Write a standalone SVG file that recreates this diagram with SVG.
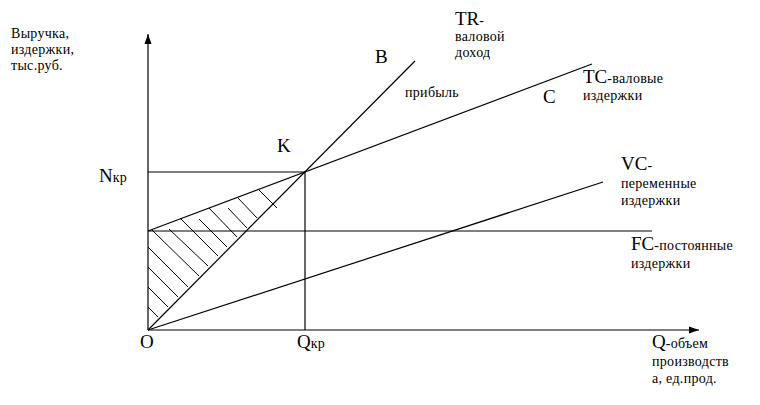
<svg xmlns="http://www.w3.org/2000/svg" width="760" height="405" viewBox="0 0 760 405">
<style>
text{font-family:"Liberation Serif","DejaVu Serif",serif;fill:#000}
.s{font-size:14px;letter-spacing:0.3px}
.b{font-size:19px}
.ln{stroke:#000;stroke-width:1.2;fill:none}
.h{stroke:#000;stroke-width:1;fill:none}
</style>
<defs>
<marker id="arr" markerWidth="10" markerHeight="8" refX="10" refY="4" orient="auto" markerUnits="userSpaceOnUse">
<path d="M0,0.5 L10,4 L0,7.5 Z" fill="#000"/>
</marker>
</defs>
<rect width="760" height="405" fill="#fff"/>
<g id="connectors">
<line class="ln" x1="148" y1="330" x2="148" y2="34" marker-end="url(#arr)"/>
<line class="ln" x1="148" y1="330" x2="699" y2="330" marker-end="url(#arr)"/>
<line class="ln" x1="148" y1="172" x2="305" y2="172"/>
<line class="ln" x1="305" y1="172" x2="305" y2="330"/>
<line class="ln" x1="148" y1="231" x2="652" y2="231"/>
<line class="ln" x1="148" y1="330" x2="415" y2="61"/>
<line class="ln" x1="148" y1="231" x2="592" y2="64"/>
<line class="ln" x1="148" y1="330" x2="603" y2="182"/>
</g>
<g id="hatch">
<line class="h" x1="148" y1="307" x2="158" y2="317"/>
<line class="h" x1="148" y1="287" x2="168" y2="307"/>
<line class="h" x1="148" y1="267" x2="178" y2="297"/>
<line class="h" x1="148" y1="247" x2="188" y2="287"/>
<line class="h" x1="152" y1="230" x2="199" y2="276"/>
<line class="h" x1="169" y1="229" x2="208" y2="266"/>
<line class="h" x1="180" y1="218" x2="218" y2="256"/>
<line class="h" x1="199" y1="219" x2="227" y2="247"/>
<line class="h" x1="209" y1="208" x2="237" y2="237"/>
<line class="h" x1="228" y1="208" x2="247" y2="228"/>
<line class="h" x1="238" y1="198" x2="257" y2="218"/>
<line class="h" x1="258" y1="189" x2="277" y2="208"/>
</g>
<g id="axis-y-label"><text class="s" x="11" y="38">Выручка,</text><text class="s" x="11" y="54">издержки,</text><text class="s" x="11" y="70">тыс.руб.</text></g>
<g id="n-kr"><text x="99" y="182"><tspan class="b">N</tspan><tspan class="s">кр</tspan></text></g>
<g id="point-k"><text class="b" x="277" y="152">K</text></g>
<g id="point-b"><text class="b" x="375" y="63">B</text></g>
<g id="profit"><text class="s" x="405" y="97">прибыль</text></g>
<g id="tr"><text x="455" y="25"><tspan class="b">TR</tspan><tspan class="s">-</tspan></text><text class="s" x="455" y="41">валовой</text><text class="s" x="455" y="57">доход</text></g>
<g id="point-c"><text class="b" x="543" y="103">C</text></g>
<g id="tc"><text x="583" y="83"><tspan class="b">TC</tspan><tspan class="s">-валовые</tspan></text><text class="s" x="583" y="100">издержки</text></g>
<g id="vc"><text x="621" y="170"><tspan class="b">VC</tspan><tspan class="s">-</tspan></text><text class="s" x="621" y="188">переменные</text><text class="s" x="621" y="205">издержки</text></g>
<g id="fc"><text x="631" y="250"><tspan class="b">FC</tspan><tspan class="s">-постоянные</tspan></text><text class="s" x="631" y="268">издержки</text></g>
<g id="origin"><text class="b" x="140" y="348">O</text></g>
<g id="q-kr"><text x="297" y="348"><tspan class="b">Q</tspan><tspan class="s">кр</tspan></text></g>
<g id="axis-x-label"><text x="652" y="348"><tspan class="b">Q</tspan><tspan class="s">-объем</tspan></text><text class="s" x="652" y="366">производств</text><text class="s" x="652" y="383">а, ед.прод.</text></g>
</svg>
